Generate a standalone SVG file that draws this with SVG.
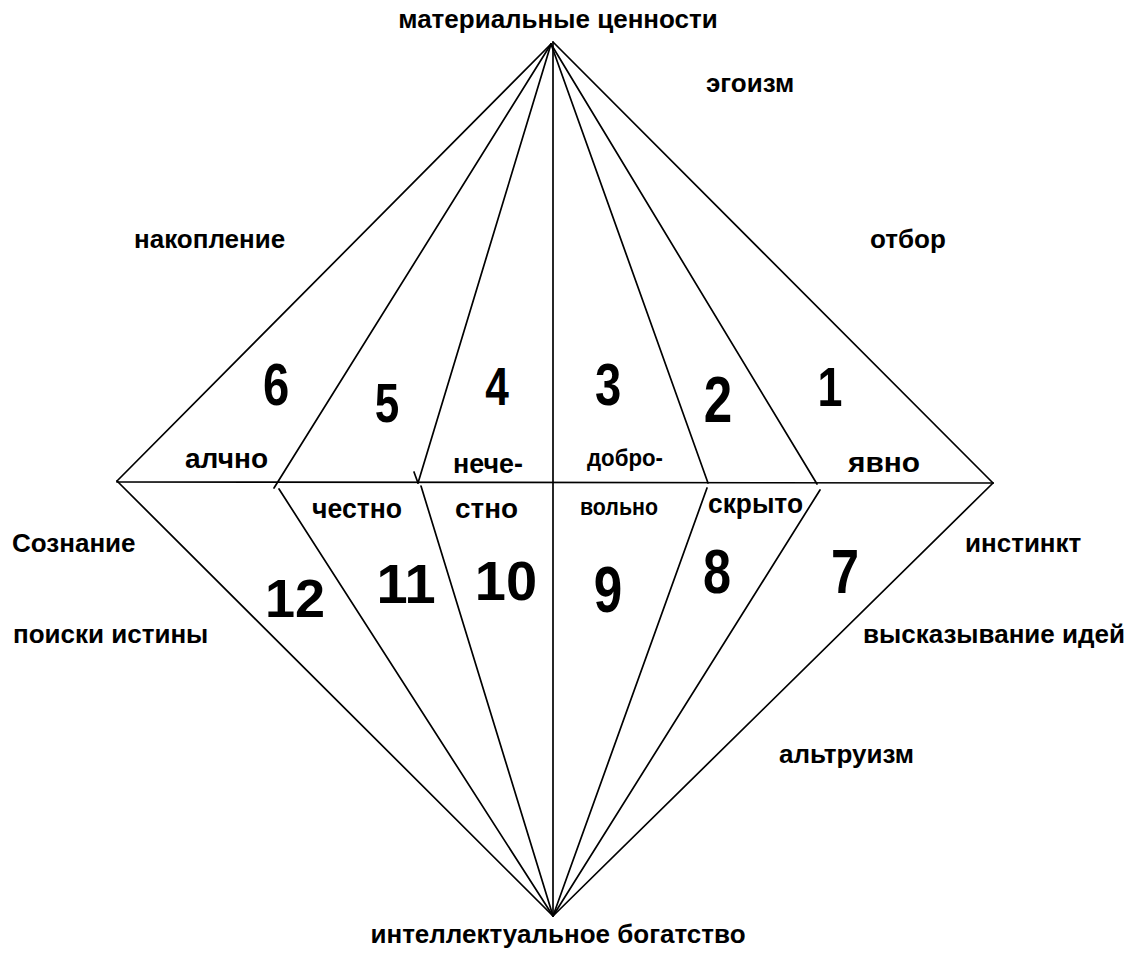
<svg xmlns="http://www.w3.org/2000/svg" width="1130" height="953" viewBox="0 0 1130 953">
<style>
.ln{stroke:#000;stroke-width:1.7;fill:none;stroke-linecap:round}
.lb{font-family:"Liberation Sans",Arial,sans-serif;font-weight:bold;font-size:26px;fill:#000}
.in{font-family:"Liberation Sans",Arial,sans-serif;font-weight:bold;font-size:28px;fill:#000}
.sm{font-size:24px}
.nm{font-family:"Liberation Sans",Arial,sans-serif;font-weight:bold;fill:#000;text-anchor:middle}
</style>
<rect width="1130" height="953" fill="#fff"/>
<g id="connectors">
<line class="ln" x1="117" y1="482" x2="993" y2="483"/>
<line class="ln" x1="551" y1="44" x2="117" y2="481"/>
<line class="ln" x1="551" y1="44" x2="274" y2="488"/>
<line class="ln" x1="551" y1="44" x2="418" y2="483"/>
<path class="ln" d="M414,472 L418,483"/>
<line class="ln" x1="553" y1="42" x2="553" y2="916"/>
<line class="ln" x1="551" y1="44" x2="708" y2="483"/>
<line class="ln" x1="551" y1="44" x2="817" y2="484"/>
<line class="ln" x1="553" y1="42" x2="993" y2="483"/>
<line class="ln" x1="117" y1="481" x2="553" y2="916"/>
<line class="ln" x1="279" y1="489" x2="553" y2="916"/>
<line class="ln" x1="421" y1="486" x2="553" y2="916"/>
<line class="ln" x1="707" y1="488" x2="553" y2="916"/>
<line class="ln" x1="820" y1="490" x2="553" y2="916"/>
<line class="ln" x1="993" y1="483" x2="553" y2="916"/>
</g>
<g id="labels">
<text id="top" class="lb" x="558" y="28" text-anchor="middle">материальные ценности</text>
<text id="egoizm" class="lb" x="706" y="92">эгоизм</text>
<text id="nakoplenie" class="lb" x="134" y="248">накопление</text>
<text id="otbor" class="lb" x="870" y="248">отбор</text>
<text id="soznanie" class="lb" x="12" y="552">Сознание</text>
<text id="instinkt" class="lb" x="965" y="552">инстинкт</text>
<text id="poiski" class="lb" x="13" y="643">поиски истины</text>
<text id="vyskaz" class="lb" x="863" y="643">высказывание идей</text>
<text id="altruizm" class="lb" x="779" y="763">альтруизм</text>
<text id="bottom" class="lb" x="558" y="943" text-anchor="middle">интеллектуальное богатство</text>
</g>
<g id="inner">
<text class="in" x="185" y="468" textLength="83" lengthAdjust="spacingAndGlyphs">алчно</text>
<text class="in" x="312" y="518" textLength="90" lengthAdjust="spacingAndGlyphs">честно</text>
<text class="in" x="453" y="473" textLength="70" lengthAdjust="spacingAndGlyphs">нече-</text>
<text class="in" x="455" y="518" textLength="63" lengthAdjust="spacingAndGlyphs">стно</text>
<text class="in sm" x="587" y="466" textLength="76" lengthAdjust="spacingAndGlyphs">добро-</text>
<text class="in sm" x="580" y="515" textLength="78" lengthAdjust="spacingAndGlyphs">вольно</text>
<text class="in" x="708" y="513" textLength="95" lengthAdjust="spacingAndGlyphs">скрыто</text>
<text class="in" x="848" y="472" textLength="72" lengthAdjust="spacingAndGlyphs">явно</text>
</g>
<g id="numbers">
<text class="nm" transform="translate(276,405) scale(0.8,1)" font-size="59">6</text>
<text class="nm" transform="translate(387,422) scale(0.8,1)" font-size="55">5</text>
<text class="nm" transform="translate(497,405) scale(0.8,1)" font-size="53">4</text>
<text class="nm" transform="translate(608,405) scale(0.8,1)" font-size="59">3</text>
<text class="nm" transform="translate(718,422) scale(0.8,1)" font-size="64">2</text>
<text class="nm" transform="translate(830,406) scale(0.8,1)" font-size="56">1</text>
<text class="nm" transform="translate(608,612) scale(0.8,1)" font-size="64">9</text>
<text class="nm" transform="translate(717,593) scale(0.8,1)" font-size="63">8</text>
<text class="nm" transform="translate(845,593) scale(0.8,1)" font-size="63">7</text>
<text class="nm" x="295" y="617" font-size="54">12</text>
<text class="nm" x="406" y="603" font-size="56">11</text>
<text class="nm" x="506" y="600" font-size="56">10</text>
</g>
</svg>
